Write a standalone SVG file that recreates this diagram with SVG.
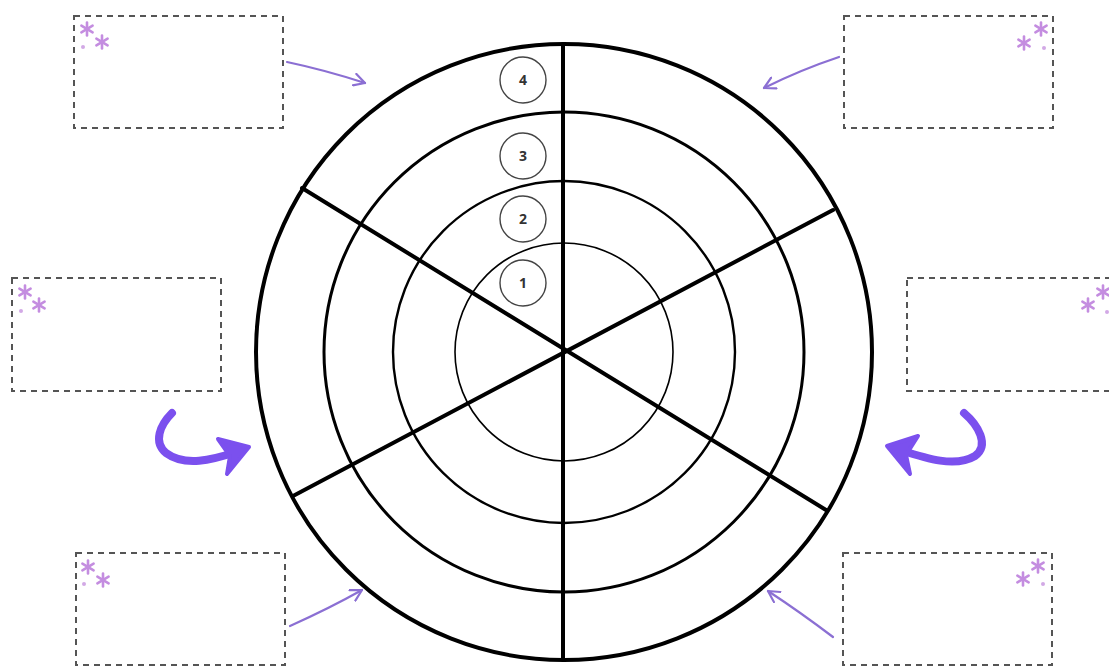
<svg xmlns="http://www.w3.org/2000/svg" xmlns:xlink="http://www.w3.org/1999/xlink" width="1109" height="666" viewBox="0 0 1109 666">
<style>
.box{fill:none;stroke:#555;stroke-width:2;stroke-dasharray:6 5}
.ring{fill:none;stroke:#000}
.spoke{stroke:#000;stroke-width:4;stroke-linecap:round}
.num{fill:none;stroke:#444;stroke-width:1.4}
.numt{font-family:"Open Sans","DejaVu Sans",sans-serif;font-weight:700;font-size:14px;fill:#333;text-anchor:middle}
.thin{fill:none;stroke:#8b6fd3;stroke-width:2.2;stroke-linecap:round}
.big{fill:none;stroke:#7b50ee;stroke-width:8;stroke-linecap:round;stroke-linejoin:round}
.head{fill:#7b50ee;stroke:#7b50ee;stroke-width:4;stroke-linejoin:round}
.ast{stroke:#c48de0;stroke-width:2.6;stroke-linecap:round}
.dot{fill:#d2a9e6}
</style>
<defs>
<marker id="vhead" viewBox="0 0 14 14" refX="12" refY="7" markerWidth="14" markerHeight="14" markerUnits="userSpaceOnUse" orient="auto">
<path d="M1,1 L12,7 L1,13" fill="none" stroke="#8b6fd3" stroke-width="2.2" stroke-linecap="round" stroke-linejoin="round"/>
</marker>
<g id="ast">
<line class="ast" x1="0" y1="-6.5" x2="0" y2="6.5"/>
<line class="ast" x1="-5.6" y1="-3.3" x2="5.6" y2="3.3"/>
<line class="ast" x1="-5.6" y1="3.3" x2="5.6" y2="-3.3"/>
</g>
</defs>

<g id="wheel">
<circle class="ring" cx="564" cy="352" r="308" stroke-width="4"/>
<circle class="ring" cx="564" cy="352" r="240" stroke-width="3"/>
<circle class="ring" cx="564" cy="352" r="171" stroke-width="2.4"/>
<circle class="ring" cx="564" cy="352" r="109" stroke-width="1.6"/>
<line class="spoke" x1="563" y1="44" x2="563" y2="660"/>
<line class="spoke" x1="302" y1="188" x2="826" y2="510"/>
<line class="spoke" x1="293" y1="496" x2="833" y2="210"/>
</g>

<g id="level-4"><circle class="num" cx="523" cy="80" r="23"/><text class="numt" x="523" y="85">4</text></g>
<g id="level-3"><circle class="num" cx="523" cy="156" r="23"/><text class="numt" x="523" y="161">3</text></g>
<g id="level-2"><circle class="num" cx="523" cy="219" r="23"/><text class="numt" x="523" y="224">2</text></g>
<g id="level-1"><circle class="num" cx="523" cy="283" r="23"/><text class="numt" x="523" y="288">1</text></g>

<g id="box-top-left">
<rect class="box" x="74" y="16" width="209" height="112"/>
<use href="#ast" x="87" y="29"/><use href="#ast" x="102" y="42"/><circle class="dot" cx="83" cy="47" r="2"/>
</g>
<g id="box-top-right">
<rect class="box" x="844" y="16" width="209" height="112"/>
<use href="#ast" x="1041" y="29"/><use href="#ast" x="1024" y="43"/><circle class="dot" cx="1044" cy="48" r="2"/>
</g>
<g id="box-mid-left">
<rect class="box" x="12" y="278" width="209" height="113"/>
<use href="#ast" x="25" y="292"/><use href="#ast" x="39" y="305"/><circle class="dot" cx="21" cy="311" r="2"/>
</g>
<g id="box-mid-right">
<rect class="box" x="907" y="278" width="210" height="113"/>
<use href="#ast" x="1103" y="292"/><use href="#ast" x="1088" y="305"/><circle class="dot" cx="1107" cy="312" r="2"/>
</g>
<g id="box-bottom-left">
<rect class="box" x="76" y="553" width="209" height="112"/>
<use href="#ast" x="88" y="567"/><use href="#ast" x="103" y="580"/><circle class="dot" cx="84" cy="584" r="2"/>
</g>
<g id="box-bottom-right">
<rect class="box" x="843" y="553" width="209" height="112"/>
<use href="#ast" x="1038" y="566"/><use href="#ast" x="1023" y="579"/><circle class="dot" cx="1043" cy="584" r="2"/>
</g>

<g id="connectors">
<path class="thin" d="M287,62 Q325,70 365,83" marker-end="url(#vhead)"/>
<path class="thin" d="M839,57 Q800,70 764,88" marker-end="url(#vhead)"/>
<path class="thin" d="M290,626 Q330,608 362,590" marker-end="url(#vhead)"/>
<path class="thin" d="M833,637 Q800,612 768,591" marker-end="url(#vhead)"/>
<path class="big" d="M172,413 C160,425 153,442 166,453 C185,467 212,460 236,452"/>
<path class="head" d="M218,439 L249,447 L227,474 L230,456 Z"/>
<path class="big" d="M964,413 C978,425 990,445 975,456 C955,468 925,458 900,450"/>
<path class="head" d="M918,436 L887,446 L910,474 L906,455 Z"/>
</g>
</svg>
